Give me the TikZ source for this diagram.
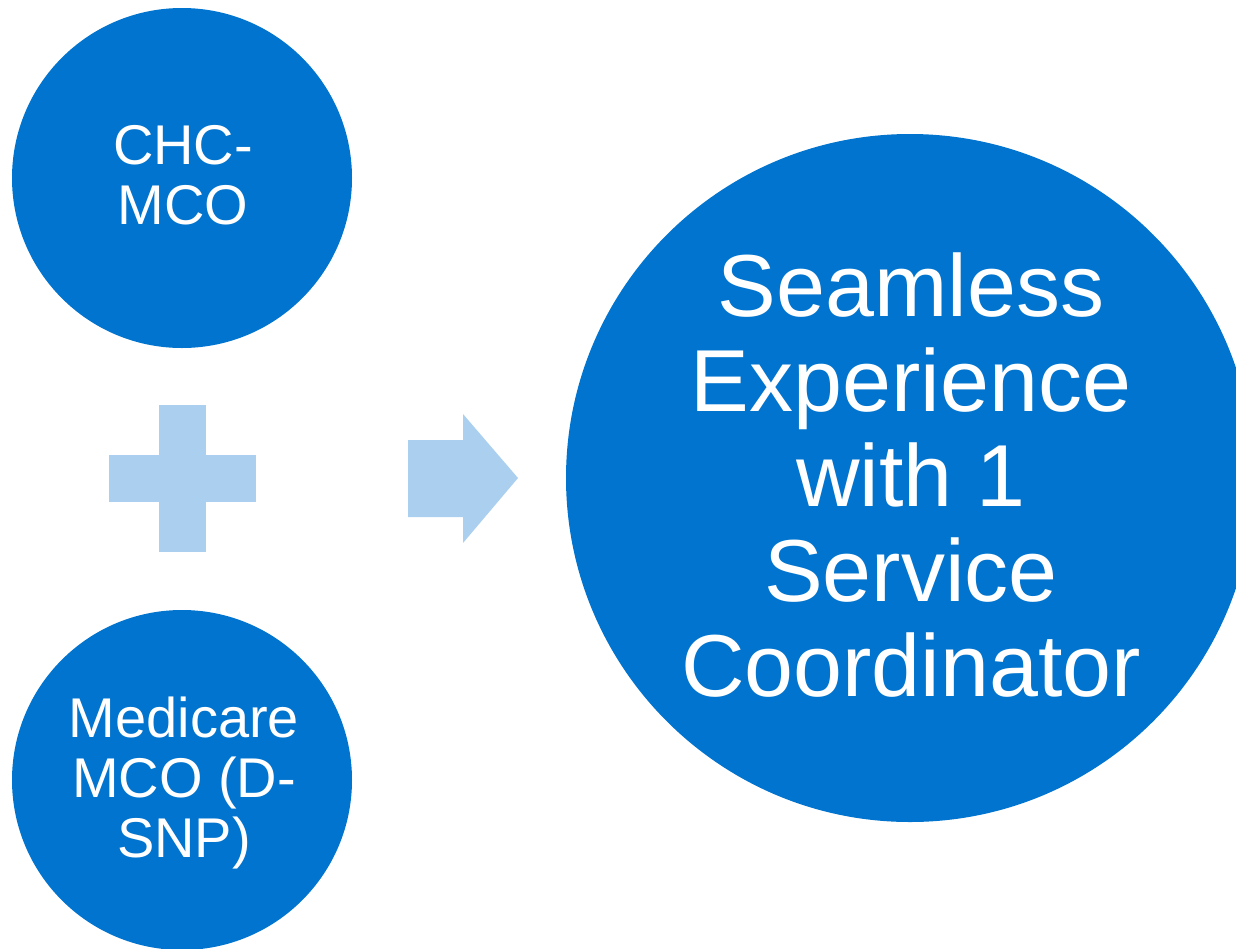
\documentclass[tikz,border=0pt]{standalone}
\usepackage{fontspec}
\setmainfont{Liberation Sans}
\definecolor{ballblue}{HTML}{0074CE}
\definecolor{paleblue}{HTML}{ABD0EF}
\tikzset{
  ball/.style={circle, fill=ballblue, draw=none, inner sep=0pt},
  smalltext/.style={text=white, align=center, inner sep=0pt, anchor=north,
    font=\fontsize{56}{60}\selectfont},
  bigtext/.style={text=white, align=center, inner sep=0pt, anchor=north,
    font=\fontsize{88}{95}\selectfont},
  pale/.style={fill=paleblue, draw=none}
}
\begin{document}
\begin{tikzpicture}[x=1pt, y=-1pt]
  \useasboundingbox (0,0) rectangle (1236,948);
  \clip (0,0) rectangle (1236,948);
  % the two plans and the combined result
  \node[ball, minimum size=340pt] (chc) at (182,178) {};
  \node[ball, minimum size=340pt] (dsnp) at (182,780) {};
  \node[ball, minimum size=688pt] (result) at (910,478) {};
  % labels
  \node[smalltext] (chclabel) at (183,125) {CHC-\\MCO};
  \node[smalltext] (dsnplabel) at (184,697) {Medicare\\MCO (D-\\SNP)};
  \node[bigtext] (resultlabel) at (911,253) {Seamless\\Experience\\with 1\\Service\\Coordinator};
  % plus sign
  \path[pale] (159,405) rectangle (206,552);
  \path[pale] (109,455) rectangle (256,502);
  % block arrow
  \path[pale] (408,440) -- (463,440) -- (463,414) -- (518,478)
    -- (463,543) -- (463,517) -- (408,517) -- cycle;
\end{tikzpicture}
\end{document}
